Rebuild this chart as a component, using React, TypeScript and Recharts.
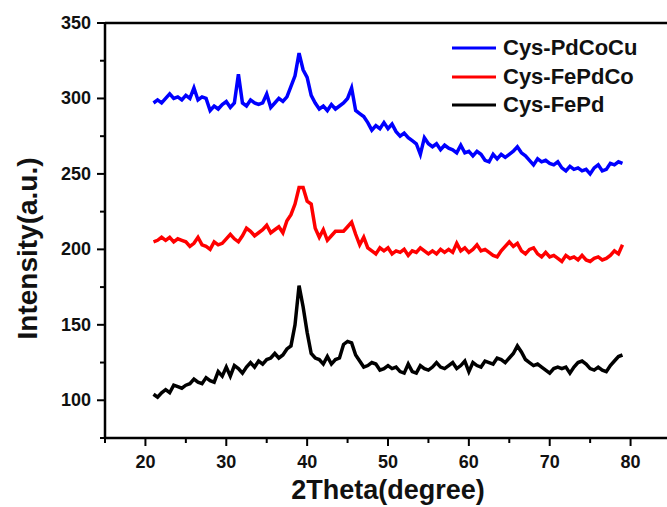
import React from 'react';
import { LineChart, Line, XAxis, YAxis, Legend, ReferenceLine } from 'recharts';

// 2theta grid (degree), 0.5 step
const angles = [
  21, 21.5, 22, 22.5, 23, 23.5, 24, 24.5, 25, 25.5,
  26, 26.5, 27, 27.5, 28, 28.5, 29, 29.5, 30, 30.5,
  31, 31.5, 32, 32.5, 33, 33.5, 34, 34.5, 35, 35.5,
  36, 36.5, 37, 37.5, 38, 38.5, 39, 39.5, 40, 40.5,
  41, 41.5, 42, 42.5, 43, 43.5, 44, 44.5, 45, 45.5,
  46, 46.5, 47, 47.5, 48, 48.5, 49, 49.5, 50, 50.5,
  51, 51.5, 52, 52.5, 53, 53.5, 54, 54.5, 55, 55.5,
  56, 56.5, 57, 57.5, 58, 58.5, 59, 59.5, 60, 60.5,
  61, 61.5, 62, 62.5, 63, 63.5, 64, 64.5, 65, 65.5,
  66, 66.5, 67, 67.5, 68, 68.5, 69, 69.5, 70, 70.5,
  71, 71.5, 72, 72.5, 73, 73.5, 74, 74.5, 75, 75.5,
  76, 76.5, 77, 77.5, 78, 78.5, 79,
];

const pdCoCu = [
  297, 299, 297, 300, 303, 300, 301, 299, 302, 300,
  307, 299, 301, 300, 292, 295, 293, 296, 298, 294,
  297, 316, 297, 295, 299, 297, 296, 297, 303, 294,
  297, 300, 298, 301, 308, 315, 330, 319, 314, 302,
  297, 293, 295, 292, 296, 293, 295, 297, 300, 307,
  292, 290, 288, 284, 279, 282, 280, 284, 280, 283,
  278, 275, 277, 274, 272, 270, 263, 274, 270, 268,
  270, 266, 269, 267, 266, 264, 269, 264, 265, 262,
  265, 263, 259, 258, 263, 260, 263, 261, 263, 265,
  268, 264, 262, 259, 256, 260, 258, 259, 257, 256,
  258, 254, 252, 255, 253, 254, 252, 253, 250, 254,
  256, 252, 253, 257, 256, 258, 257,
];

const fePdCo = [
  205, 206, 208, 206, 208, 205, 207, 206, 205, 202,
  204, 208, 203, 202, 200, 205, 203, 204, 207, 210,
  207, 205, 209, 214, 212, 209, 211, 213, 216, 211,
  213, 215, 211, 219, 223, 230, 241, 241, 232, 230,
  214, 208, 213, 206, 209, 212, 212, 212, 215, 218,
  210, 203, 208, 201, 199, 197, 201, 199, 201, 197,
  199, 198, 200, 196, 199, 198, 201, 199, 197, 199,
  197, 200, 198, 200, 198, 204, 199, 201, 198, 200,
  203, 199, 200, 198, 196, 195, 199, 202, 205, 202,
  204, 199, 197, 200, 201, 197, 195, 198, 195, 196,
  194, 192, 196, 194, 195, 193, 196, 193, 192, 194,
  195, 193, 194, 196, 199, 197, 203,
];

const fePd = [
  104, 102, 105, 107, 105, 110, 109, 108, 110, 111,
  114, 112, 111, 115, 113, 112, 119, 116, 122, 116,
  123, 121, 118, 122, 125, 122, 126, 124, 127, 128,
  131, 128, 130, 134, 136, 150, 176, 162, 145, 131,
  128, 127, 124, 129, 124, 127, 128, 137, 139, 138,
  130, 126, 122, 123, 125, 124, 120, 121, 123, 121,
  122, 119, 118, 124, 119, 118, 123, 121, 120, 122,
  125, 122, 121, 123, 125, 121, 123, 126, 119, 125,
  123, 122, 126, 125, 124, 128, 127, 125, 128, 131,
  136, 132, 127, 125, 123, 124, 122, 120, 118, 121,
  122, 121, 122, 118, 122, 125, 126, 124, 121, 120,
  122, 120, 119, 123, 126, 129, 130,
];

const seriesNames = ['Cys-PdCoCu', 'Cys-FePdCo', 'Cys-FePd'];
const xTicks = [15, 20, 25, 30, 35, 40, 45, 50, 55, 60, 65, 70, 75, 80, 85];
const yTicks = [75, 100, 125, 150, 175, 200, 225, 250, 275, 300, 325, 350];

const data = angles.map((a, i) => ({
  angle: a,
  pdcocu: pdCoCu[i],
  fepdco: fePdCo[i],
  fepd: fePd[i],
}));

const FONT = '"Liberation Sans", Arial, sans-serif';

const XTick = ({ x, y, payload }: any) => {
  const major = payload.value % 10 === 0;
  return (
    <g>
      <line x1={x} x2={x} y1={y} y2={y + (major ? 8 : 5)} stroke="#000" strokeWidth={2} />
      {major && payload.value >= 20 && payload.value <= 80 && (
        <text x={x} y={y + 30} textAnchor="middle" fontFamily={FONT} fontWeight="bold" fontSize={18} fill="#111">
          {payload.value}
        </text>
      )}
    </g>
  );
};

const YTick = ({ x, y, payload }: any) => {
  const major = payload.value % 50 === 0;
  return (
    <g>
      <line x1={x} x2={x - (major ? 8 : 5)} y1={y} y2={y} stroke="#000" strokeWidth={2} />
      {major && (
        <text x={x - 14} y={y + 6} textAnchor="end" fontFamily={FONT} fontWeight="bold" fontSize={18} fill="#111">
          {payload.value}
        </text>
      )}
    </g>
  );
};

const YLabel = ({ viewBox }: any) => {
  const cx = viewBox.x + 27;
  const cy = viewBox.y + viewBox.height / 2 + 18;
  return (
    <text
      x={cx}
      y={cy}
      transform={`rotate(-90 ${cx} ${cy})`}
      textAnchor="middle"
      dominantBaseline="central"
      fontFamily={FONT}
      fontWeight="bold"
      fontSize={28}
      fill="#111"
    >
      Intensity(a.u.)
    </text>
  );
};

const renderLegend = ({ payload }: any) => {
  const items = [...payload].sort((a: any, b: any) => seriesNames.indexOf(a.value) - seriesNames.indexOf(b.value));
  return (
    <div style={{ fontFamily: FONT }}>
      {items.map((entry: any) => (
        <div key={entry.value} style={{ display: 'flex', alignItems: 'center', height: 28.5 }}>
          <svg width={44} height={6} style={{ marginRight: 7 }}>
            <line x1={0} x2={44} y1={3} y2={3} stroke={entry.color} strokeWidth={3} />
          </svg>
          <span style={{ fontSize: 22, fontWeight: 'bold', color: '#111', whiteSpace: 'nowrap' }}>{entry.value}</span>
        </div>
      ))}
    </div>
  );
};

export default function App() {
  return (
    <div style={{ position: 'absolute', left: 0, top: 0, width: 667, height: 507, overflow: 'hidden', background: '#fff' }}>
      <LineChart width={680} height={507} data={data} margin={{ top: 23, right: 9, bottom: 0, left: 0 }}>
        <XAxis
          dataKey="angle"
          type="number"
          domain={[15, 85]}
          ticks={xTicks}
          interval={0}
          tickSize={0}
          tickMargin={0}
          tickLine={false}
          tick={<XTick />}
          height={69}
          axisLine={{ stroke: '#000', strokeWidth: 2.5 }}
          allowDataOverflow
          label={{
            value: '2Theta(degree)',
            position: 'insideBottom',
            offset: 8,
            style: { fontFamily: FONT, fontWeight: 'bold', fontSize: 27, fill: '#111' },
          }}
        />
        <YAxis
          type="number"
          domain={[75, 350]}
          ticks={yTicks}
          interval={0}
          tickSize={0}
          tickMargin={0}
          tickLine={false}
          tick={<YTick />}
          width={105}
          axisLine={{ stroke: '#000', strokeWidth: 2.5 }}
          allowDataOverflow
          label={<YLabel />}
        />
        <ReferenceLine y={350} stroke="#000" strokeWidth={2.5} />
        <ReferenceLine x={85} stroke="#000" strokeWidth={2.5} />
        <Legend
          layout="horizontal"
          verticalAlign="middle"
          align="center"
          content={renderLegend}
          wrapperStyle={{ position: 'absolute', left: 452, top: 34, width: 210 }}
        />
        <Line type="linear" dataKey="pdcocu" name="Cys-PdCoCu" stroke="#0000ff" strokeWidth={3.5} dot={false} isAnimationActive={false} />
        <Line type="linear" dataKey="fepdco" name="Cys-FePdCo" stroke="#ff0000" strokeWidth={3.5} dot={false} isAnimationActive={false} />
        <Line type="linear" dataKey="fepd" name="Cys-FePd" stroke="#000000" strokeWidth={3.5} dot={false} isAnimationActive={false} />
      </LineChart>
    </div>
  );
}
